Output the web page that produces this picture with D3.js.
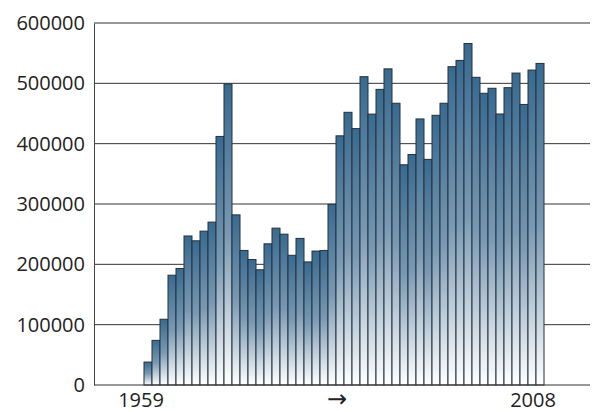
<!DOCTYPE html>
<html><head><meta charset="utf-8">
<script src="https://cdn.jsdelivr.net/npm/d3@7"></script>
<style>body{margin:0;background:#fff}svg{display:block}</style>
</head><body>
<svg id="c" width="592" height="412"></svg>
<script>
const years = d3.range(1959, 2009);
const values = [38000,74000,109000,182000,193000,247000,239000,255000,270000,412000,
499000,282000,223000,208000,191000,234000,260000,250000,215000,243000,
204000,222000,223000,299500,413000,452000,425000,511000,449000,490000,
524000,467000,365000,382000,441000,374000,447000,467000,527600,538000,
566000,510000,483500,491800,449200,492800,517000,465000,522000,533000];
const yTicks = [0,100000,200000,300000,400000,500000,600000];
const xLabels = [{year:1959,text:"1959"},{year:1983.5,text:"→"},{year:2008,text:"2008"}];

const svg = d3.select("#c");
const L=94, R=590, T=23, B=385;
const x = d3.scaleLinear().domain([1959, 2009]).range([144, 544]);
const y = d3.scaleLinear().domain([0,600000]).range([B,T]);

const defs = svg.append("defs");
const g = defs.append("linearGradient").attr("id","bg").attr("x1",0).attr("y1",0).attr("x2",0).attr("y2",1);
g.append("stop").attr("offset","0").attr("stop-color","#386a90");
g.append("stop").attr("offset","0.5").attr("stop-color","#7899b4");
g.append("stop").attr("offset","1").attr("stop-color","#ffffff");

// gridlines
svg.append("g").selectAll("line").data(yTicks.filter(d=>d>0)).join("line")
  .attr("x1",L).attr("x2",R).attr("y1",d=>y(d)).attr("y2",d=>y(d))
  .attr("stroke","#333").attr("stroke-width",1);

// bars
svg.append("g").selectAll("rect").data(values).join("rect")
  .attr("x",(d,i)=>x(years[i])).attr("width",x(1960)-x(1959))
  .attr("y",d=>y(d)).attr("height",d=>B-y(d))
  .attr("fill","url(#bg)").attr("stroke","#26313b").attr("stroke-width",1);

// axes
const ya = d3.axisLeft(y).tickValues(yTicks).tickSize(0).tickPadding(9).tickFormat(d3.format("d"));
const yg = svg.append("g").attr("transform",`translate(${L},0)`).call(ya);
yg.select(".domain").attr("stroke","#444");
yg.selectAll("text").attr("font-family","Open Sans, sans-serif").attr("font-size",20).attr("fill","#222");

svg.append("line").attr("x1",L).attr("x2",R).attr("y1",B).attr("y2",B).attr("stroke","#333");

svg.append("g").selectAll("text").data(xLabels).join("text")
  .attr("x",d=>x(d.year)+4-7).attr("y",407)
  .attr("text-anchor","middle")
  .attr("font-family",d=>d.text==="→"?"DejaVu Sans, sans-serif":"Open Sans, sans-serif")
  .attr("font-size",d=>d.text==="→"?24:20).attr("fill","#222")
  .text(d=>d.text);
</script>
</body></html>
